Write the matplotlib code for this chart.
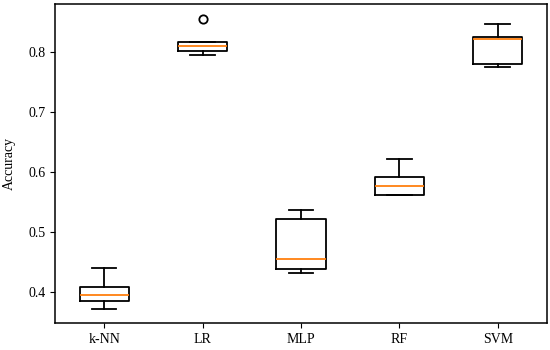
import numpy as np
import matplotlib.pyplot as plt

plt.rcParams['font.family'] = ['Liberation Serif', 'DejaVu Serif']

# model names
models = ['k-NN', 'LR', 'MLP', 'RF', 'SVM']

# accuracy per fold
knn = [0.371, 0.385, 0.394, 0.408, 0.439]
lr = [0.795, 0.802, 0.811, 0.818, 0.855]
mlp = [0.431, 0.438, 0.455, 0.522, 0.537]
rf = [0.562, 0.562, 0.577, 0.592, 0.622]
svm = [0.775, 0.780, 0.823, 0.826, 0.848]

data = [knn, lr, mlp, rf, svm]

fig = plt.figure(figsize=(5.5, 3.5), dpi=100)
ax = fig.add_axes([0.1, 0.077, 0.8945, 0.9115])
lw = 1.3
ax.boxplot(data, tick_labels=models,
           boxprops=dict(linewidth=lw),
           whiskerprops=dict(linewidth=lw),
           capprops=dict(linewidth=lw),
           medianprops=dict(linewidth=lw),
           flierprops=dict(markeredgewidth=lw))
ax.set_ylim(0.3477, 0.8807)
ax.set_yticks([0.4, 0.5, 0.6, 0.7, 0.8])
ax.set_yticklabels(['0.4', '0.5', '0.6', '0.7', '0.8'])
ax.set_ylabel('Accuracy', fontsize=10, labelpad=9)
ax.tick_params(labelsize=10)
for s in ax.spines.values():
    s.set_linewidth(1.1)

fig.savefig('out.png', dpi=100)
